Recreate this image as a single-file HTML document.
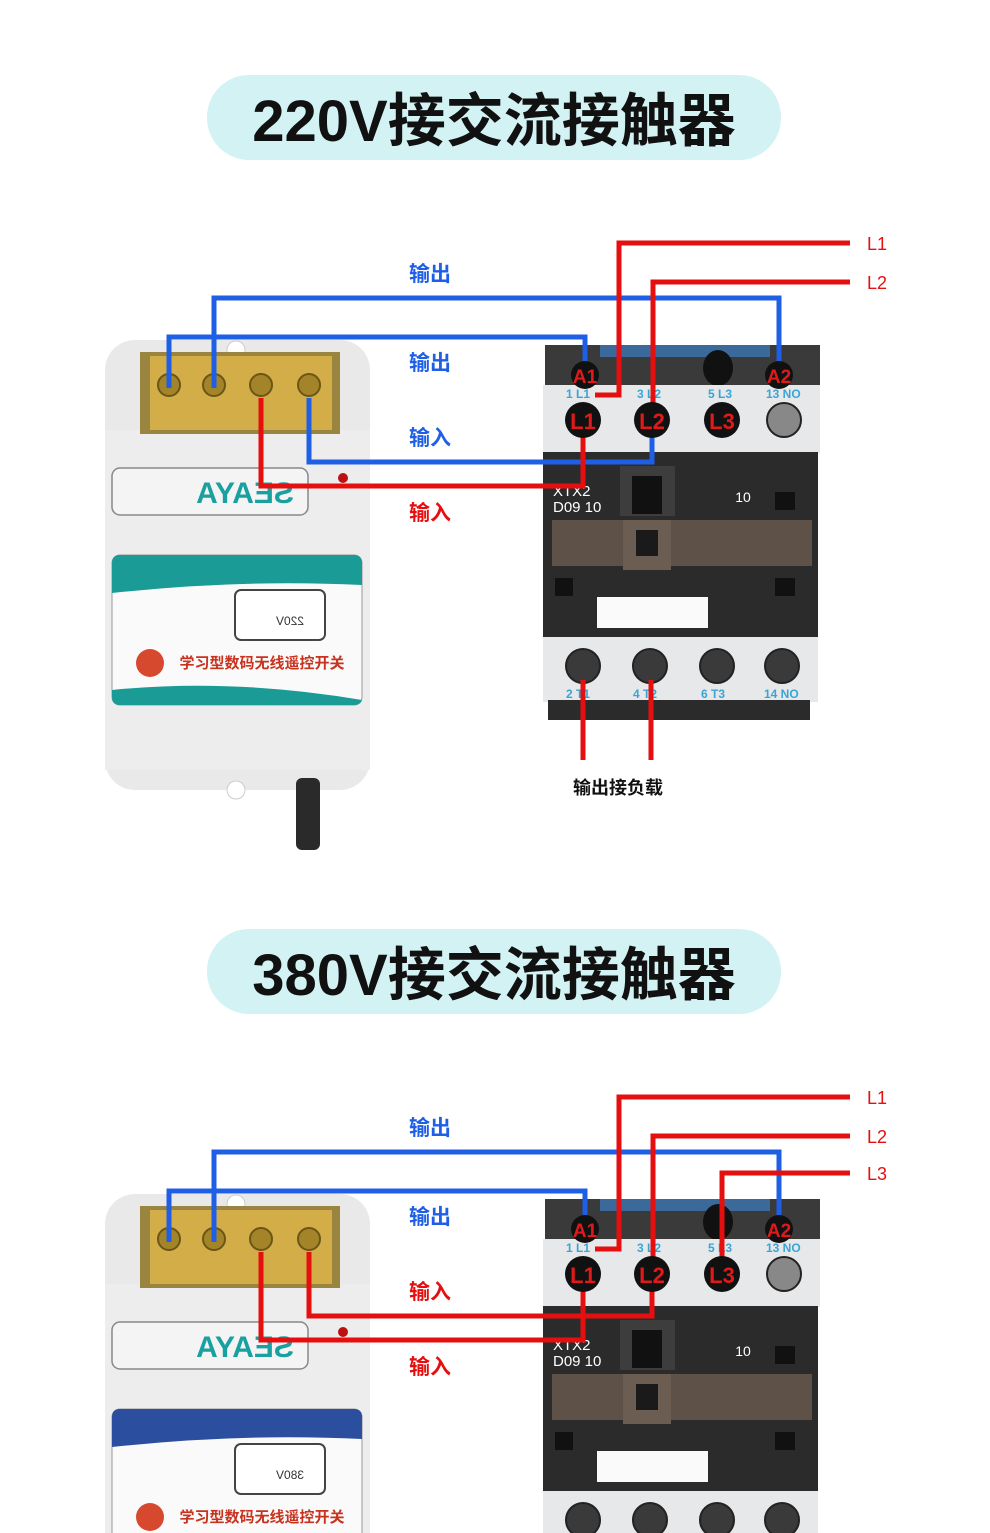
<!DOCTYPE html>
<html><head><meta charset="utf-8"><style>
html,body{margin:0;padding:0;background:#fff;width:990px;height:1533px;overflow:hidden}
svg{display:block}
text{font-family:"Liberation Sans","Noto Sans CJK SC",sans-serif}
</style></head><body>
<svg width="990" height="1533" viewBox="0 0 990 1533" xmlns="http://www.w3.org/2000/svg">
<defs>
<g id="ctrl">
  <rect x="105" y="340" width="265" height="450" rx="30" fill="#e9e9ea"/>
  <rect x="105" y="430" width="265" height="340" fill="#ededee"/>
  <circle cx="236" cy="350" r="9" fill="#fff" stroke="#ccc"/>
  <rect x="140" y="352" width="200" height="82" fill="#9a8540"/>
  <rect x="150" y="356" width="182" height="74" fill="#d2ad48"/>
  <g fill="#a38428" stroke="#6b5518" stroke-width="2">
    <circle cx="169" cy="385" r="11"/><circle cx="214" cy="385" r="11"/><circle cx="261" cy="385" r="11"/><circle cx="309" cy="385" r="11"/>
  </g>
  <rect x="112" y="468" width="196" height="47" rx="8" fill="#f4f4f4" stroke="#888" stroke-width="1.5"/>
  <text x="-245" y="503" font-size="30" font-weight="bold" fill="#1aa0a0" text-anchor="middle" transform="scale(-1,1)">SEAYA</text>
  <circle cx="343" cy="478" r="5" fill="#b11"/>
  <rect x="112" y="555" width="250" height="150" rx="8" fill="#fafafa" stroke="#999"/>
  <rect x="235" y="590" width="90" height="50" rx="6" fill="#fff" stroke="#444" stroke-width="2"/>
  <circle cx="150" cy="663" r="14" fill="#d6492e"/>
  <text x="262" y="668" font-size="15" font-weight="bold" fill="#c8321e" text-anchor="middle">学习型数码无线遥控开关</text>
  <circle cx="236" cy="790" r="9" fill="#fff" stroke="#ccc"/>
  <rect x="296" y="778" width="24" height="72" rx="6" fill="#2a2a2a"/>
</g>
<g id="cont">
  <rect x="545" y="345" width="275" height="42" fill="#3a3a3a"/>
  <rect x="600" y="345" width="170" height="12" fill="#3b6a9a"/>
  <ellipse cx="718" cy="368" rx="15" ry="18" fill="#111"/>
  <rect x="543" y="385" width="277" height="68" fill="#e7e8ea"/>
  <rect x="543" y="452" width="275" height="186" fill="#2b2b2b"/>
  <rect x="620" y="466" width="55" height="50" fill="#3d3d3d"/><rect x="632" y="476" width="30" height="38" fill="#111"/>
  <rect x="552" y="520" width="260" height="46" fill="#5e5148"/>
  <rect x="623" y="520" width="48" height="50" fill="#6b5d52"/><rect x="636" y="530" width="22" height="26" fill="#1a1a1a"/>
  <rect x="597" y="597" width="111" height="31" fill="#fafafa"/>
  <rect x="775" y="492" width="20" height="18" fill="#111"/><rect x="555" y="578" width="18" height="18" fill="#111"/><rect x="775" y="578" width="20" height="18" fill="#111"/>
  <text x="553" y="496" font-size="15" fill="#fff">XTX2</text><text x="553" y="512" font-size="15" fill="#fff">D09 10</text>
  <text x="743" y="502" font-size="14" fill="#fff" text-anchor="middle">10</text>
  <rect x="543" y="637" width="275" height="65" fill="#e7e8ea"/>
  <rect x="548" y="700" width="262" height="20" fill="#2b2b2b"/>
  <g fill="#3a3a3a" stroke="#222" stroke-width="2">
    <circle cx="583" cy="666" r="17"/><circle cx="650" cy="666" r="17"/><circle cx="717" cy="666" r="17"/><circle cx="782" cy="666" r="17"/>
    <circle cx="784" cy="420" r="17" fill="#888"/>
  </g>
  <g font-size="12" fill="#39a5d6" font-weight="bold">
    <text x="566" y="398">1 L1</text><text x="637" y="398">3 L2</text><text x="708" y="398">5 L3</text><text x="766" y="398">13 NO</text>
    <text x="566" y="698">2 T1</text><text x="633" y="698">4 T2</text><text x="701" y="698">6 T3</text><text x="764" y="698">14 NO</text>
  </g>
</g>
<g id="terms">
  <g fill="#111"><circle cx="585" cy="375" r="14"/><circle cx="779" cy="375" r="14"/>
  <circle cx="583" cy="420" r="18"/><circle cx="652" cy="420" r="18"/><circle cx="722" cy="420" r="18"/></g>
  <g fill="#e01a1a" font-weight="bold" text-anchor="middle">
    <text x="585" y="383" font-size="19">A1</text><text x="779" y="383" font-size="19">A2</text>
    <text x="583" y="429" font-size="22">L1</text><text x="652" y="429" font-size="22">L2</text><text x="722" y="429" font-size="22">L3</text>
  </g>
</g>
</defs>

<!-- Section 1 -->
<rect x="207" y="75" width="574" height="85" rx="42" fill="#d3f2f4"/>
<text x="494" y="141" font-size="58" font-weight="bold" fill="#111" text-anchor="middle">220V接交流接触器</text>
<use href="#ctrl"/>
<path d="M112 563 q0 -8 8 -8 h234 q8 0 8 8 v22 q-120 -6 -250 8z" fill="#1b9b95"/>
<path d="M112 690 q120 -12 250 10 v-2 q0 7 -8 7 h-234 q-8 0 -8 -8z" fill="#1b9b95"/>
<text x="-290" y="625" font-size="12" fill="#333" text-anchor="middle" transform="scale(-1,1)">220V</text>
<use href="#cont"/>
<g fill="none" stroke-width="5" stroke-linejoin="miter">
  <polyline points="214,388 214,298 779,298 779,365" stroke="#1e5fe6"/>
  <polyline points="169,388 169,337 585,337 585,365" stroke="#1e5fe6"/>
  <polyline points="309,398 309,462 652,462 652,432" stroke="#1e5fe6"/>
  <polyline points="261,398 261,486 583,486 583,432" stroke="#e60f0f"/>
  <polyline points="850,243 619,243 619,395 595,395" stroke="#e60f0f"/>
  <polyline points="850,282 653,282 653,405" stroke="#e60f0f"/>
  <line x1="583" y1="680" x2="583" y2="760" stroke="#e60f0f"/>
  <line x1="651" y1="680" x2="651" y2="760" stroke="#e60f0f"/>
</g>
<use href="#terms"/>
<g font-size="21" font-weight="bold" text-anchor="middle">
  <text x="430" y="281" fill="#1e5fe6">输出</text><text x="430" y="370" fill="#1e5fe6">输出</text>
  <text x="430" y="445" fill="#1e5fe6">输入</text><text x="430" y="520" fill="#e60f0f">输入</text>
  <text x="877" y="250" fill="#e60f0f" font-size="18" font-weight="normal">L1</text>
  <text x="877" y="289" fill="#e60f0f" font-size="18" font-weight="normal">L2</text>
  <text x="618" y="794" fill="#111" font-size="18">输出接负载</text>
</g>

<!-- Section 2 -->
<rect x="207" y="929" width="574" height="85" rx="42" fill="#d3f2f4"/>
<text x="494" y="995" font-size="58" font-weight="bold" fill="#111" text-anchor="middle">380V接交流接触器</text>
<g transform="translate(0,854)">
<use href="#ctrl"/>
<path d="M112 563 q0 -8 8 -8 h234 q8 0 8 8 v22 q-120 -6 -250 8z" fill="#2c4e9e"/>
<text x="-290" y="625" font-size="12" fill="#333" text-anchor="middle" transform="scale(-1,1)">380V</text>
<use href="#cont"/>
<g fill="none" stroke-width="5">
  <polyline points="214,388 214,298 779,298 779,365" stroke="#1e5fe6"/>
  <polyline points="169,388 169,337 585,337 585,365" stroke="#1e5fe6"/>
  <polyline points="309,398 309,462 652,462 652,432" stroke="#e60f0f"/>
  <polyline points="261,398 261,486 583,486 583,432" stroke="#e60f0f"/>
  <polyline points="850,243 619,243 619,395 595,395" stroke="#e60f0f"/>
  <polyline points="850,282 653,282 653,405" stroke="#e60f0f"/>
  <polyline points="850,319 722,319 722,405" stroke="#e60f0f"/>
</g>
<use href="#terms"/>
<g font-size="21" font-weight="bold" text-anchor="middle">
  <text x="430" y="281" fill="#1e5fe6">输出</text><text x="430" y="370" fill="#1e5fe6">输出</text>
  <text x="430" y="445" fill="#e60f0f">输入</text><text x="430" y="520" fill="#e60f0f">输入</text>
  <text x="877" y="250" fill="#e60f0f" font-size="18" font-weight="normal">L1</text>
  <text x="877" y="289" fill="#e60f0f" font-size="18" font-weight="normal">L2</text>
  <text x="877" y="326" fill="#e60f0f" font-size="18" font-weight="normal">L3</text>
</g>
</g>
</svg>
</body></html>
